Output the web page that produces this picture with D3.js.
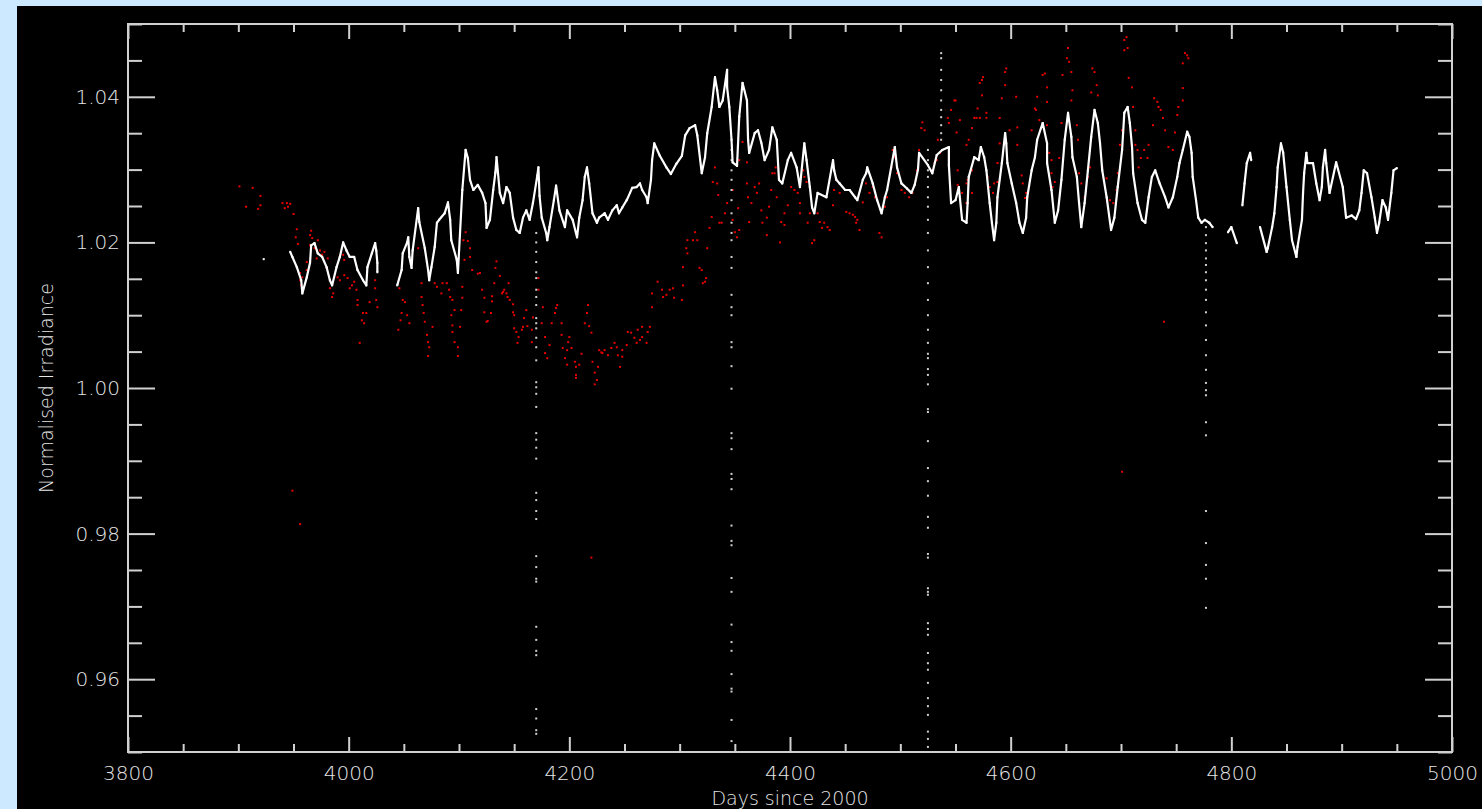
<!DOCTYPE html>
<html lang="en">
<head>
<meta charset="utf-8">
<title>Normalised Irradiance</title>
<script src="https://d3js.org/d3.v7.min.js"></script>
<style>
  body { margin:0; background:#cce9ff; }
  svg { display:block; }
  .axis text { fill:#e6e6e6; font-family:'DejaVu Sans', sans-serif; font-size:20px; font-weight:200; }
  .axis line { stroke:#d0d0d0; stroke-width:2; }
  .axis path { display:none; }
  .frame { fill:none; stroke:#d0d0d0; stroke-width:2; }
  .title { fill:#e6e6e6; font-family:'DejaVu Sans', sans-serif; font-size:19px; font-weight:200; }
  .trace { fill:none; stroke:#fff; stroke-width:2.2; stroke-linejoin:round; }
</style>
</head>
<body>
<script type="text/javascript">
// white: daily normalised irradiance (null = gap)
var tsiTrace = [
  [3923,1.0177], null,
  [3947,1.0187],[3949,1.0180],[3953,1.0166],[3957,1.0148],[3958,1.0130],[3962,1.0152],[3965,1.0172],
  [3966,1.0196],[3969,1.0199],[3972,1.0185],[3976,1.0180],[3980,1.0166],[3983,1.0148],[3985,1.0141],
  [3989,1.0166],[3992,1.0180],[3995,1.0200],[3998,1.0189],[4001,1.0180],[4005,1.0180],[4008,1.0162],
  [4013,1.0148],[4016,1.0141],[4017,1.0166],[4021,1.0185],[4024,1.0199],[4025,1.0189],[4026,1.0172],
  [4026,1.0159], null,
  [4044,1.0141],[4048,1.0162],[4049,1.0185],[4053,1.0200],[4054,1.0207],[4055,1.0180],[4057,1.0165],
  [4058,1.0189],[4063,1.0247],[4064,1.0228],[4069,1.0192],[4072,1.0162],[4073,1.0148],[4075,1.0166],
  [4078,1.0194],[4080,1.0227],[4082,1.0231],[4087,1.0240],[4090,1.0255],[4092,1.0231],[4093,1.0203],
  [4098,1.0176],[4099,1.0158],[4103,1.0272],[4106,1.0327],[4108,1.0316],[4110,1.0286],[4113,1.0272],
  [4117,1.0279],[4121,1.0268],[4124,1.0254],[4125,1.0220],[4128,1.0231],[4131,1.0272],[4133,1.0296],
  [4134,1.0317],[4137,1.0268],[4140,1.0254],[4143,1.0276],[4146,1.0268],[4149,1.0234],[4152,1.0217],
  [4155,1.0213],[4158,1.0234],[4161,1.0244],[4164,1.0231],[4167,1.0254],[4171,1.0292],[4172,1.0303],
  [4173,1.0264],[4175,1.0234],[4179,1.0213],[4180,1.0203],[4182,1.0221],[4186,1.0258],[4188,1.0278],
  [4191,1.0244],[4196,1.0221],[4198,1.0244],[4203,1.0231],[4206,1.0213],[4207,1.0207],[4209,1.0234],
  [4212,1.0258],[4214,1.0290],[4216,1.0303],[4218,1.0281],[4221,1.0240],[4225,1.0227],[4227,1.0234],
  [4232,1.0240],[4235,1.0231],[4239,1.0244],[4243,1.0251],[4245,1.0240],[4248,1.0248],[4252,1.0258],
  [4255,1.0268],[4257,1.0275],[4261,1.0276],[4264,1.0281],[4266,1.0272],[4270,1.0262],[4271,1.0254],
  [4274,1.0286],[4275,1.0313],[4277,1.0336],[4282,1.0319],[4288,1.0303],[4292,1.0294],[4297,1.0308],
  [4302,1.0319],[4305,1.0347],[4309,1.0357],[4314,1.0361],[4316,1.0347],[4320,1.0295],[4323,1.0317],
  [4325,1.0350],[4329,1.0386],[4332,1.0427],[4334,1.0409],[4336,1.0386],[4339,1.0395],[4343,1.0437],
  [4343,1.0413],[4345,1.0386],[4347,1.0341],[4348,1.0310],[4352,1.0305],[4354,1.0373],[4357,1.0419],
  [4361,1.0395],[4362,1.0341],[4363,1.0323],[4368,1.0350],[4371,1.0354],[4374,1.0337],[4377,1.0313],
  [4381,1.0327],[4384,1.0358],[4388,1.0341],[4390,1.0286],[4393,1.0281],[4398,1.0313],[4401,1.0323],
  [4406,1.0303],[4409,1.0276],[4413,1.0336],[4415,1.0313],[4418,1.0276],[4420,1.0248],[4422,1.0240],
  [4425,1.0268],[4433,1.0262],[4439,1.0313],[4440,1.0299],[4442,1.0286],[4445,1.0281],[4450,1.0272],
  [4454,1.0272],[4459,1.0262],[4461,1.0258],[4466,1.0286],[4469,1.0295],[4470,1.0303],[4475,1.0281],
  [4479,1.0258],[4483,1.0240],[4486,1.0262],[4488,1.0272],[4495,1.0331],[4497,1.0303],[4501,1.0281],
  [4506,1.0274],[4510,1.0268],[4513,1.0279],[4516,1.0300],[4517,1.0323],[4525,1.0306],[4529,1.0295],
  [4533,1.0320],[4538,1.0327],[4544,1.0331],[4544,1.0306],[4546,1.0254],[4550,1.0258],[4553,1.0276],
  [4556,1.0231],[4560,1.0227],[4561,1.0254],[4562,1.0290],[4567,1.0317],[4571,1.0313],[4573,1.0331],
  [4576,1.0317],[4578,1.0299],[4581,1.0254],[4583,1.0227],[4585,1.0203],[4587,1.0227],[4588,1.0262],
  [4592,1.0309],[4595,1.0350],[4596,1.0336],[4597,1.0309],[4601,1.0281],[4605,1.0254],[4608,1.0227],
  [4611,1.0213],[4614,1.0234],[4615,1.0262],[4619,1.0299],[4622,1.0317],[4624,1.0341],[4629,1.0364],
  [4633,1.0336],[4633,1.0309],[4637,1.0272],[4640,1.0227],[4643,1.0244],[4646,1.0286],[4649,1.0341],
  [4652,1.0378],[4655,1.0345],[4656,1.0317],[4660,1.0290],[4662,1.0254],[4664,1.0221],[4667,1.0254],
  [4670,1.0299],[4673,1.0345],[4676,1.0382],[4679,1.0364],[4681,1.0336],[4683,1.0299],[4687,1.0262],
  [4691,1.0217],[4694,1.0234],[4697,1.0276],[4701,1.0327],[4703,1.0378],[4706,1.0386],[4708,1.0364],
  [4710,1.0331],[4711,1.0295],[4715,1.0254],[4719,1.0231],[4722,1.0227],[4725,1.0262],[4728,1.0290],
  [4731,1.0299],[4735,1.0281],[4740,1.0262],[4743,1.0248],[4747,1.0262],[4751,1.0290],[4753,1.0309],
  [4756,1.0327],[4760,1.0352],[4762,1.0345],[4764,1.0323],[4765,1.0290],[4768,1.0258],[4770,1.0234],
  [4773,1.0227],[4776,1.0231],[4780,1.0227],[4783,1.0221], null,
  [4797,1.0214],[4800,1.0221],[4805,1.0199], null,
  [4810,1.0251],[4812,1.0281],[4814,1.0309],[4817,1.0323],[4818,1.0313], null,
  [4826,1.0221],[4832,1.0187],[4833,1.0192],[4837,1.0221],[4839,1.0240],[4841,1.0276],[4842,1.0303],
  [4845,1.0336],[4847,1.0323],[4850,1.0276],[4853,1.0231],[4855,1.0203],[4859,1.0180],[4860,1.0194],
  [4864,1.0231],[4865,1.0268],[4866,1.0295],[4868,1.0323],[4869,1.0309],[4874,1.0309],[4877,1.0281],
  [4880,1.0258],[4882,1.0276],[4883,1.0303],[4885,1.0327],[4886,1.0309],[4889,1.0268],[4895,1.0310],
  [4901,1.0276],[4903,1.0248],[4904,1.0234],[4909,1.0237],[4913,1.0232],[4916,1.0244],[4918,1.0268],
  [4920,1.0299],[4923,1.0295],[4927,1.0262],[4930,1.0234],[4932,1.0213],[4934,1.0227],[4937,1.0258],
  [4940,1.0248],[4942,1.0231],[4945,1.0268],[4947,1.0299],[4950,1.0302]
];

// white: dropout columns (one day, many readings)
var dropoutDays = [4170, 4347, 4525, 4537, 4777];
var dropoutVals = [
  [1.0213,1.0200,1.0187,1.0173,1.0159,1.0151,1.0135,1.0125,1.0114,1.0096,1.0089,1.0082,1.0069,1.0056,
   1.0038,1.0008,1.0001,0.9992,0.9974,0.9938,0.9929,0.9918,0.9903,0.9856,0.9846,0.9831,0.9820,0.9769,
   0.9754,0.9738,0.9734,0.9672,0.9654,0.9639,0.9633,0.9559,0.9546,0.9530,0.9525],
  [1.0327,1.0313,1.0299,1.0286,1.0272,1.0258,1.0240,1.0227,1.0213,1.0203,1.0180,1.0165,1.0128,1.0111,
   1.0100,1.0063,1.0056,1.0030,0.9999,0.9938,0.9931,0.9916,0.9882,0.9875,0.9861,0.9811,0.9790,0.9784,
   0.9739,0.9720,0.9675,0.9651,0.9639,0.9607,0.9587,0.9583,0.9544,0.9515],
  [1.0327,1.0313,1.0299,1.0290,1.0276,1.0262,1.0249,1.0231,1.0213,1.0189,1.0166,1.0144,1.0121,1.0100,
   1.0080,1.0062,1.0047,1.0041,1.0026,1.0018,1.0005,0.9971,0.9967,0.9927,0.9890,0.9872,0.9852,0.9823,
   0.9808,0.9772,0.9767,0.9725,0.9720,0.9716,0.9677,0.9669,0.9661,0.9636,0.9622,0.9613,0.9595,0.9574,
   0.9563,0.9551,0.9528,0.9518,0.9507],
  [1.0460,1.0453,1.0437,1.0423,1.0409,1.0395,1.0382,1.0372,1.0361,1.0350,1.0341],
  [1.0221,1.0210,1.0199,1.0189,1.0178,1.0169,1.0159,1.0148,1.0135,1.0121,1.0104,1.0086,1.0066,1.0045,
   1.0025,1.0007,0.9997,0.9990,0.9953,0.9935,0.9831,0.9787,0.9757,0.9738,0.9698]
];

// red: second instrument
var redObs = [
  [3901,1.0277],[3913,1.0275],[3920,1.0264],[3920,1.0251],[3918,1.0246],[3907,1.0249],[3940,1.0254],
  [3944,1.0254],[3947,1.0253],[3945,1.0249],[3942,1.0247],[3950,1.0239],[3953,1.0218],[3952,1.0207],
  [3954,1.0198],[3966,1.0216],[3965,1.0210],[3967,1.0206],[3972,1.0203],[3965,1.0196],[3969,1.0192],
  [3974,1.0189],[3978,1.0187],[3976,1.0183],[3971,1.0178],[3981,1.0178],[3962,1.0173],[3980,1.0165],
  [3956,1.0158],[3958,1.0152],[3962,1.0162],[3956,1.0148],[3957,1.0141],[3983,1.0148],[3990,1.0152],
  [3995,1.0183],[3996,1.0176],[3983,1.0137],[3986,1.0130],[3985,1.0125],[3992,1.0148],[3996,1.0155],
  [3999,1.0151],[4003,1.0141],[4005,1.0146],[4001,1.0137],[4007,1.0135],[4008,1.0121],[4008,1.0114],
  [4013,1.0103],[4014,1.0089],[4012,1.0093],[4016,1.0103],[4019,1.0118],[4024,1.0148],[4024,1.0137],
  [4025,1.0121],[4026,1.0111],[4010,1.0062],[4046,1.0137],[4049,1.0121],[4051,1.0118],[4048,1.0103],
  [4053,1.0100],[4047,1.0093],[4055,1.0089],[4045,1.0080],[4063,1.0192],[4066,1.0144],[4066,1.0125],
  [4067,1.0114],[4068,1.0103],[4069,1.0091],[4071,1.0073],[4072,1.0063],[4073,1.0056],[4072,1.0044],
  [4076,1.0084],[4078,1.0144],[4080,1.0139],[4084,1.0130],[4085,1.0144],[4089,1.0144],[4091,1.0135],
  [4092,1.0125],[4094,1.0121],[4096,1.0107],[4093,1.0100],[4094,1.0086],[4094,1.0077],[4096,1.0063],
  [4099,1.0056],[4099,1.0044],[4101,1.0084],[4102,1.0107],[4103,1.0124],[4103,1.0139],[4106,1.0214],
  [4104,1.0203],[4108,1.0202],[4110,1.0192],[4110,1.0180],[4112,1.0162],[4117,1.0157],[4105,1.0176],
  [3949,0.9859],[3956,0.9813],
  [4119,1.0158],[4134,1.0174],[4133,1.0165],[4132,1.0144],[4137,1.0154],[4121,1.0135],[4123,1.0124],
  [4130,1.0126],[4130,1.0119],[4123,1.0104],[4129,1.0103],[4126,1.0092],[4125,1.0091],[4139,1.0130],
  [4140,1.0132],[4141,1.0135],[4143,1.0130],[4144,1.0125],[4145,1.0144],[4146,1.0121],[4149,1.0115],
  [4149,1.0104],[4150,1.0100],[4150,1.0082],[4152,1.0077],[4154,1.0070],[4153,1.0062],[4157,1.0080],
  [4158,1.0084],[4159,1.0096],[4161,1.0107],[4162,1.0085],[4166,1.0080],[4167,1.0097],[4166,1.0063],
  [4172,1.0151],[4172,1.0135],[4176,1.0111],[4175,1.0089],[4178,1.0070],[4178,1.0048],[4180,1.0041],
  [4182,1.0059],[4184,1.0089],[4187,1.0103],[4188,1.0110],[4189,1.0114],[4193,1.0089],[4193,1.0073],
  [4194,1.0055],[4196,1.0041],[4198,1.0032],[4198,1.0052],[4199,1.0063],[4200,1.0070],[4202,1.0055],
  [4205,1.0036],[4206,1.0029],[4206,1.0018],[4206,1.0014],[4209,1.0032],[4211,1.0047],[4214,1.0089],
  [4216,1.0103],[4217,1.0114],[4218,1.0085],[4220,1.0076],[4221,1.0036],[4223,1.0021],[4225,1.0011],
  [4223,1.0005],[4226,1.0029],[4227,1.0052],[4229,1.0049],[4230,1.0048],[4232,1.0052],[4235,1.0045],
  [4238,1.0055],[4241,1.0062],[4243,1.0056],[4244,1.0045],[4246,1.0029],[4248,1.0043],[4248,1.0052],
  [4252,1.0059],[4253,1.0077],[4256,1.0076],[4259,1.0069],[4261,1.0062],[4264,1.0066],[4266,1.0070],
  [4270,1.0062],[4271,1.0077],[4273,1.0084],[4266,1.0084],[4262,1.0080],[4275,1.0111],[4275,1.0130],
  [4280,1.0146],[4284,1.0135],[4285,1.0125],[4288,1.0128],[4291,1.0135],[4294,1.0137],[4295,1.0124],
  [4302,1.0121],[4303,1.0141],[4303,1.0166],[4307,1.0185],[4306,1.0192],[4307,1.0203],[4312,1.0203],
  [4314,1.0214],[4316,1.0203],[4318,1.0165],[4320,1.0162],[4321,1.0144],[4323,1.0146],[4324,1.0151],
  [4325,1.0192],[4327,1.0220],[4329,1.0235],[4332,1.0303],[4330,1.0283],[4334,1.0281],[4335,1.0265],
  [4336,1.0227],[4338,1.0227],[4341,1.0240],[4343,1.0254],[4348,1.0272],[4350,1.0214],[4348,1.0231],
  [4352,1.0207],[4353,1.0247],[4354,1.0217],[4361,1.0281],[4362,1.0262],[4365,1.0254],[4368,1.0276],
  [4370,1.0268],[4372,1.0281],[4374,1.0244],[4375,1.0227],[4379,1.0234],[4379,1.0210],[4383,1.0272],
  [4387,1.0303],[4388,1.0262],[4384,1.0295],[4357,1.0338],[4354,1.0313],[4361,1.0310],[4363,1.0228],
  [4381,1.0249],[4386,1.0295],
  [4391,1.0200],[4392,1.0228],[4395,1.0224],[4395,1.0240],[4398,1.0251],[4401,1.0276],[4404,1.0272],
  [4407,1.0268],[4409,1.0254],[4409,1.0240],[4412,1.0299],[4413,1.0290],[4415,1.0283],[4416,1.0227],
  [4418,1.0240],[4420,1.0199],[4422,1.0203],[4425,1.0240],[4427,1.0228],[4429,1.0220],[4431,1.0227],
  [4434,1.0221],[4436,1.0217],[4439,1.0251],[4440,1.0272],[4442,1.0286],[4445,1.0268],[4451,1.0242],
  [4454,1.0240],[4457,1.0238],[4459,1.0235],[4461,1.0231],[4463,1.0217],[4460,1.0227],[4466,1.0255],
  [4469,1.0281],[4472,1.0268],[4475,1.0276],[4477,1.0262],[4481,1.0213],[4483,1.0207],[4486,1.0249],
  [4488,1.0262],[4492,1.0303],[4493,1.0327],[4495,1.0317],[4497,1.0295],[4501,1.0272],[4504,1.0268],
  [4508,1.0262],[4511,1.0268],[4514,1.0286],[4515,1.0299],[4517,1.0327],[4519,1.0357],[4522,1.0354],
  [4520,1.0365],[4528,1.0299],[4531,1.0309],[4533,1.0313],[4536,1.0323],[4544,1.0364],[4546,1.0382],
  [4549,1.0395],[4551,1.0351],[4554,1.0368],[4560,1.0334],[4565,1.0299],[4552,1.0279],[4556,1.0268],
  [4560,1.0254],[4561,1.0286],[4565,1.0268],[4567,1.0371],[4570,1.0384],[4534,1.0341],[4543,1.0371],
  [4550,1.0395],[4552,1.0299],[4553,1.0272],[4560,1.0281],[4562,1.0341],[4565,1.0357],[4569,1.0371],
  [4572,1.0371],[4572,1.0419],[4574,1.0423],[4575,1.0427],[4578,1.0371],[4574,1.0402],[4578,1.0378],
  [4579,1.0290],[4581,1.0276],[4584,1.0268],[4585,1.0281],[4588,1.0283],[4588,1.0309],[4590,1.0336],
  [4590,1.0371],[4592,1.0398],[4595,1.0434],[4596,1.0439],[4595,1.0416],[4599,1.0354],[4605,1.0400],
  [4606,1.0358],[4606,1.0334],[4610,1.0292],[4611,1.0281],[4613,1.0261],[4614,1.0268],[4619,1.0354],
  [4622,1.0384],[4623,1.0382],[4624,1.0400],[4626,1.0368],[4629,1.0430],[4631,1.0432],[4633,1.0413],
  [4633,1.0393],[4633,1.0361],[4635,1.0323],[4637,1.0313],[4637,1.0295],[4638,1.0276],[4640,1.0283],
  [4644,1.0316],[4646,1.0364],[4647,1.0430],[4651,1.0453],[4652,1.0467],[4653,1.0448],[4655,1.0434],
  [4655,1.0395],[4656,1.0409],[4660,1.0361],[4661,1.0341],[4662,1.0295],[4664,1.0281],[4667,1.0262],
  [4670,1.0290],[4672,1.0303],[4673,1.0406],[4674,1.0439],[4676,1.0434],[4678,1.0416],[4679,1.0402],
  [4683,1.0303],[4687,1.0288],[4690,1.0258],[4693,1.0254],[4696,1.0272],[4697,1.0295],[4699,1.0334],
  [4701,1.0354],[4703,1.0478],[4705,1.0482],[4706,1.0467],[4703,1.0464],[4707,1.0426],[4710,1.0413],
  [4711,1.0386],[4713,1.0354],[4713,1.0334],[4715,1.0327],[4716,1.0303],[4718,1.0316],[4721,1.0327],
  [4724,1.0316],[4725,1.0334],[4729,1.0361],[4730,1.0398],[4733,1.0393],[4734,1.0386],[4736,1.0382],
  [4738,1.0371],[4740,1.0354],[4743,1.0331],[4747,1.0327],[4749,1.0351],[4751,1.0375],[4752,1.0386],
  [4756,1.0412],[4756,1.0395],[4756,1.0446],[4758,1.0460],[4761,1.0453],[4760,1.0457],
  [4739,1.0091],[4701,0.9885],[4220,0.9767]
];

var xTicks = [3800, 4000, 4200, 4400, 4600, 4800, 5000];
var yTicks = [0.96, 0.98, 1.00, 1.02, 1.04];

var W = 1482, H = 809;
var plot = {left:128, right:1452, top:24, bottom:752};

var x = d3.scaleLinear().domain([3800, 5000]).range([plot.left, plot.right]);
var y = d3.scaleLinear().domain([0.95, 1.05]).range([plot.bottom, plot.top]);

var svg = d3.select('body').append('svg')
    .attr('width', W)
    .attr('height', H);

svg.append('rect')
    .attr('x', 17).attr('y', 6)
    .attr('width', W - 17).attr('height', H - 6)
    .attr('fill', '#000');

var minorX = d3.range(3800, 5001, 50).filter(function(d){ return d % 200 !== 0; });
var minorY = d3.range(0, 21).map(function(i){ return +(0.95 + i * 0.005).toFixed(3); })
    .filter(function(d){ return Math.round(d * 1000) % 20 !== 0; });

// bottom / top
svg.append('g').attr('class', 'axis')
    .attr('transform', 'translate(0,' + plot.bottom + ')')
    .call(d3.axisBottom(x).tickValues(xTicks).tickSize(-15).tickSizeOuter(0).tickPadding(14)
      .tickFormat(d3.format('d')));
svg.append('g').attr('class', 'axis')
    .attr('transform', 'translate(0,' + plot.bottom + ')')
    .call(d3.axisBottom(x).tickValues(minorX).tickSize(-8).tickSizeOuter(0).tickFormat(''));
svg.append('g').attr('class', 'axis')
    .attr('transform', 'translate(0,' + plot.top + ')')
    .call(d3.axisTop(x).tickValues(xTicks).tickSize(-15).tickSizeOuter(0).tickFormat(''));
svg.append('g').attr('class', 'axis')
    .attr('transform', 'translate(0,' + plot.top + ')')
    .call(d3.axisTop(x).tickValues(minorX).tickSize(-8).tickSizeOuter(0).tickFormat(''));

// left / right
svg.append('g').attr('class', 'axis')
    .attr('transform', 'translate(' + plot.left + ',0)')
    .call(d3.axisLeft(y).tickValues(yTicks).tickSize(-27).tickSizeOuter(0).tickPadding(8)
      .tickFormat(d3.format('.2f')));
svg.append('g').attr('class', 'axis')
    .attr('transform', 'translate(' + plot.left + ',0)')
    .call(d3.axisLeft(y).tickValues(minorY).tickSize(-14).tickSizeOuter(0).tickFormat(''));
svg.append('g').attr('class', 'axis')
    .attr('transform', 'translate(' + plot.right + ',0)')
    .call(d3.axisRight(y).tickValues(yTicks).tickSize(-27).tickSizeOuter(0).tickFormat(''));
svg.append('g').attr('class', 'axis')
    .attr('transform', 'translate(' + plot.right + ',0)')
    .call(d3.axisRight(y).tickValues(minorY).tickSize(-14).tickSizeOuter(0).tickFormat(''));

svg.append('rect').attr('class', 'frame')
    .attr('x', plot.left).attr('y', plot.top)
    .attr('width', plot.right - plot.left).attr('height', plot.bottom - plot.top);

svg.append('text').attr('class', 'title')
    .attr('x', (plot.left + plot.right) / 2).attr('y', 805)
    .attr('text-anchor', 'middle')
    .text('Days since 2000');

svg.append('text').attr('class', 'title')
    .attr('transform', 'translate(53,' + (plot.top + plot.bottom) / 2 + ') rotate(-90)')
    .attr('text-anchor', 'middle')
    .text('Normalised Irradiance');

// red points
svg.append('g').selectAll('rect')
    .data(redObs)
  .enter().append('rect')
    .attr('x', function(d){ return x(d[0]) - 1; })
    .attr('y', function(d){ return y(d[1]) - 1; })
    .attr('width', 2).attr('height', 2)
    .attr('fill', '#e80000');

// dropout columns
dropoutDays.forEach(function(day, i) {
  svg.append('g').selectAll('rect')
      .data(dropoutVals[i])
    .enter().append('rect')
      .attr('x', x(day) - 1)
      .attr('y', function(v){ return y(v) - 1; })
      .attr('width', 2).attr('height', 2)
      .attr('fill', '#cfcfcf');
});

// white trace
var line = d3.line()
    .defined(function(d){ return d !== null; })
    .x(function(d){ return x(d[0]); })
    .y(function(d){ return y(d[1]); });

svg.append('path').attr('class', 'trace').attr('d', line(tsiTrace));

svg.append('g').selectAll('rect')
    .data(tsiTrace.filter(function(d){ return d !== null; }))
  .enter().append('rect')
    .attr('x', function(d){ return x(d[0]) - 1; })
    .attr('y', function(d){ return y(d[1]) - 1; })
    .attr('width', 2).attr('height', 2)
    .attr('fill', '#fff');
</script>
</body>
</html>
